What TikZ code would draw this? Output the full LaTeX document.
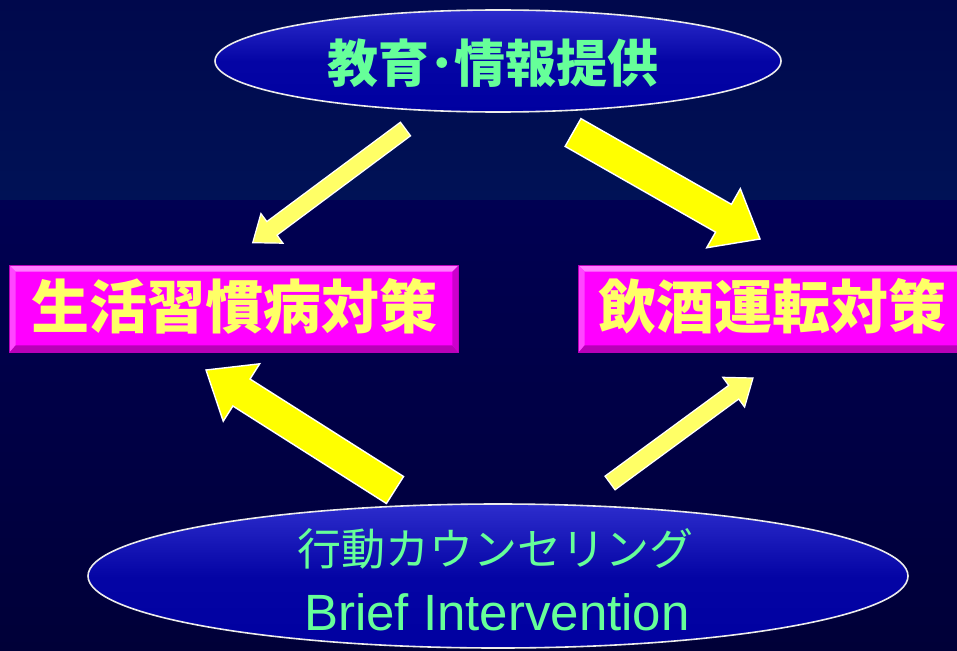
\documentclass[tikz,border=0pt]{standalone}
\usepackage{fontspec}
\setmainfont{Liberation Sans}
\newfontfamily\jp{Noto Sans CJK JP}
\usetikzlibrary{calc,shapes.geometric}
\definecolor{bgA}{RGB}{0,8,76}
\definecolor{bgB}{RGB}{0,18,86}
\definecolor{bgC}{RGB}{0,0,82}
\definecolor{bgD}{RGB}{0,0,56}
\definecolor{ellTop}{RGB}{45,45,205}
\definecolor{ellBot}{RGB}{0,0,160}
\definecolor{txtGreen}{RGB}{102,255,153}
\definecolor{txtYellow}{RGB}{255,255,102}
\definecolor{arrStrong}{RGB}{255,255,0}
\definecolor{arrLight}{RGB}{255,255,102}
\definecolor{mag}{RGB}{255,0,255}
\definecolor{magLight}{RGB}{255,125,255}
\definecolor{magMid}{RGB}{255,70,255}
\definecolor{magDark}{RGB}{185,0,185}
\definecolor{magDarker}{RGB}{205,0,205}
\tikzset{
  oval/.style={ellipse, inner sep=0pt, draw=white!85!gray, line width=1.6pt,
    top color=ellTop, bottom color=ellBot, middle color=ellBot!90!ellTop},
  magbox/.style={rectangle, inner sep=0pt, fill=mag, draw=magDark, line width=0.6pt},
  boxtext/.style={text=txtYellow, font=\jp\bfseries\fontsize{58}{60}\selectfont},
  ovaltext/.style={text=txtGreen, font=\jp\bfseries\fontsize{51}{53}\selectfont},
  bitext/.style={text=txtGreen, font=\jp\fontsize{44}{46}\selectfont},
  latintext/.style={text=txtGreen, font=\fontsize{51}{53}\selectfont},
  thickarrow/.style={fill=arrStrong, draw=white, line width=1.4pt, line join=miter},
  thinarrow/.style={fill=arrLight, draw=white, line width=1.2pt, line join=miter},
}
\newcommand\blockarrow[6]{%
  \coordinate (ba-j) at ($(#3)!#6!(#2)$);
  \draw[#1] ($(#2)!#4!90:(#3)$) -- ($(ba-j)!#4!90:(#3)$) -- ($(ba-j)!#5!90:(#3)$)
    -- (#3) -- ($(ba-j)!#5!-90:(#3)$) -- ($(ba-j)!#4!-90:(#3)$)
    -- ($(#2)!#4!-90:(#3)$) -- cycle;}
\newcommand\bevel[1]{%
  \fill[magLight] (#1.north west) -- (#1.north east) -- ([xshift=-6pt,yshift=-6pt]#1.north east) -- ([xshift=6pt,yshift=-6pt]#1.north west) -- cycle;
  \fill[magMid] (#1.north west) -- (#1.south west) -- ([xshift=6pt,yshift=7pt]#1.south west) -- ([xshift=6pt,yshift=-6pt]#1.north west) -- cycle;
  \fill[magDark] (#1.south west) -- (#1.south east) -- ([xshift=-6pt,yshift=7pt]#1.south east) -- ([xshift=6pt,yshift=7pt]#1.south west) -- cycle;
  \fill[magDarker] (#1.north east) -- (#1.south east) -- ([xshift=-6pt,yshift=7pt]#1.south east) -- ([xshift=-6pt,yshift=-6pt]#1.north east) -- cycle;
  \draw[magDark, line width=0.6pt] (#1.north west) rectangle (#1.south east);}
\begin{document}
\begin{tikzpicture}[x=1pt, y=-1pt]
\useasboundingbox (0,0) rectangle (957,650);
\fill[top color=bgA, bottom color=bgB] (0,0) rectangle (957,200);
\fill[top color=bgC, bottom color=bgD] (0,200) rectangle (957,650);

% top oval
\node[oval, minimum width=566pt, minimum height=102pt] (edu) at (498,61) {};
\node[ovaltext] (edutext) at (493,63) {教育･情報提供};

% boxes
\node[magbox, minimum width=448pt, minimum height=86pt] (life) at (234,309) {};
\bevel{life}
\node[boxtext] (lifetext) at (234,306) {生活習慣病対策};
\node[magbox, minimum width=384pt, minimum height=86pt] (drive) at (771,309) {};
\bevel{drive}
\node[boxtext] (drivetext) at (772,306) {飲酒運転対策};

% bottom oval
\node[oval, minimum width=820pt, minimum height=144pt] (bi) at (498,576) {};
\node[bitext] (bi1) at (495,549) {行動カウンセリング};
\node[latintext] (bi2) at (497,612) {Brief Intervention};

% arrows
\coordinate (a1s) at (405.5,129);  \coordinate (a1t) at (252.7,242.7);
\coordinate (a2s) at (573,132.5);  \coordinate (a2t) at (760,239);
\coordinate (a3s) at (395,490);    \coordinate (a3t) at (206,370);
\coordinate (a4s) at (610,483);    \coordinate (a4t) at (753,378);
\blockarrow{thinarrow}{a1s}{a1t}{8.5pt}{18.5pt}{24pt}
\blockarrow{thickarrow}{a2s}{a2t}{16pt}{34pt}{42pt}
\blockarrow{thickarrow}{a3s}{a3t}{16pt}{34pt}{42pt}
\blockarrow{thinarrow}{a4s}{a4t}{8.5pt}{18.5pt}{24pt}
\end{tikzpicture}
\end{document}
